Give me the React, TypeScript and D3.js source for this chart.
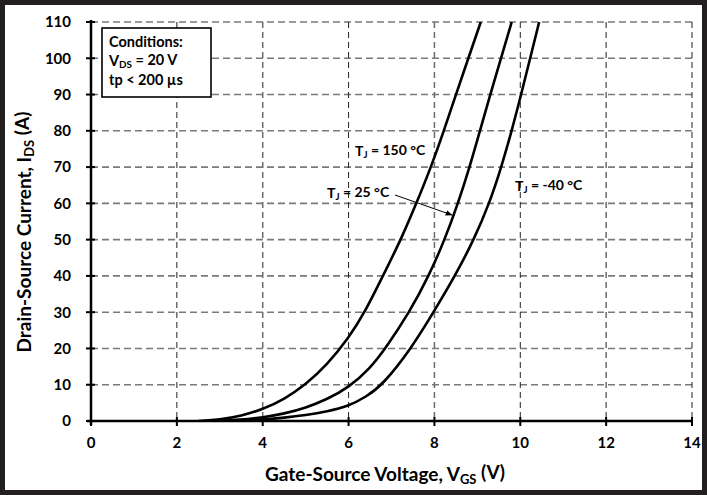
import React from "react";
import * as d3 from "d3";

// transfer characteristics
const vgs150 = [2.5, 3, 3.5, 4, 4.5, 5, 5.5, 6, 6.38, 6.8, 7.22, 7.58, 7.92, 8.22, 8.5, 8.79, 9.08];
const ids150 = [0, 0.4, 1.4, 3.2, 6, 10, 15.5, 22.8, 30, 40, 50, 60, 70, 80, 90, 100, 110];

const vgs25 = [2.8, 3.5, 4, 4.5, 5, 5.5, 6, 6.5, 6.86, 7.42, 7.87, 8.24, 8.55, 8.82, 9.06, 9.3, 9.55, 9.8];
const ids25 = [0, 0.3, 1.0, 2.0, 3.6, 6.0, 9.2, 14.5, 20, 30, 40, 50, 60, 70, 80, 90, 100, 110];

const vgsM40 = [3, 3.5, 4, 4.5, 5, 5.5, 6, 6.4, 6.8, 7.46, 7.98, 8.48, 8.92, 9.28, 9.56, 9.8, 10.02, 10.23, 10.44];
const idsM40 = [0, 0.1, 0.4, 0.9, 1.6, 2.6, 4.1, 6.6, 10, 20, 30, 40, 50, 60, 70, 80, 90, 100, 110];

const xTicks = [0, 2, 4, 6, 8, 10, 12, 14];
const yTicks = [0, 10, 20, 30, 40, 50, 60, 70, 80, 90, 100, 110];

const W = 707;
const H = 495;
const plot = { left: 91, right: 692, top: 22, bottom: 421 };
const font = "Lato, 'DejaVu Sans', sans-serif";

const x = d3.scaleLinear().domain([0, 14]).range([plot.left, plot.right]);
const y = d3.scaleLinear().domain([0, 110]).range([plot.bottom, plot.top]);

const line = d3
  .line<[number, number]>()
  .x((d) => x(d[0]))
  .y((d) => y(d[1]))
  .curve(d3.curveBasis);

const series = [
  { v: vgs150, i: ids150 },
  { v: vgs25, i: ids25 },
  { v: vgsM40, i: idsM40 },
];

const Sub = ({ children }: { children: string }) => (
  <tspan fontSize="0.68em" dy="0.25em">
    {children}
  </tspan>
);

export default function App() {
  return (
    <svg
      width={W}
      height={H}
      style={{ position: "absolute", left: 0, top: 0, background: "#fff" }}
      fontFamily={font}
      fontWeight="bold"
    >
      <defs>
        <clipPath id="plotClip">
          <rect x={plot.left} y={plot.top} width={plot.right - plot.left} height={plot.bottom - plot.top} />
        </clipPath>
        <marker id="arrow" viewBox="0 0 10 10" refX="9" refY="5" markerWidth="7" markerHeight="7" orient="auto">
          <path d="M0,1 L10,5 L0,9 z" fill="#000" />
        </marker>
      </defs>

      {/* outer frame */}
      <rect x={2.5} y={2.5} width={W - 5} height={H - 5} fill="#fff" stroke="#231f20" strokeWidth={5} />

      {/* grid */}
      {yTicks.filter((t) => t > 0).map((t) => (
        <line key={"h" + t} x1={plot.left} x2={plot.right} y1={y(t)} y2={y(t)}
          stroke="#7a7a7a" strokeWidth={1.6} strokeDasharray="7,4" />
      ))}
      {xTicks.filter((t) => t > 0).map((t) => (
        <line key={"v" + t} x1={x(t)} x2={x(t)} y1={plot.top} y2={plot.bottom}
          stroke={t % 4 === 0 ? "#6a6a6a" : "#222"} strokeWidth={t % 4 === 0 ? 1.5 : 1} strokeDasharray="6,4" />
      ))}

      {/* axes */}
      <line x1={plot.left} x2={plot.left} y1={plot.top - 2} y2={plot.bottom + 4} stroke="#000" strokeWidth={2.5} />
      <line x1={plot.left - 4} x2={plot.right} y1={plot.bottom} y2={plot.bottom} stroke="#000" strokeWidth={2.5} />
      {yTicks.map((t) => (
        <line key={"yt" + t} x1={plot.left - 5} x2={plot.left + 4} y1={y(t)} y2={y(t)} stroke="#000" strokeWidth={2} />
      ))}
      {xTicks.map((t) => (
        <line key={"xt" + t} x1={x(t)} x2={x(t)} y1={plot.bottom - 4} y2={plot.bottom + 5} stroke="#000" strokeWidth={2} />
      ))}

      {/* tick labels */}
      {yTicks.map((t) => (
        <text key={"yl" + t} x={71} y={y(t)} dy="0.36em" textAnchor="end" fontSize={15}>
          {t}
        </text>
      ))}
      {xTicks.map((t) => (
        <text key={"xl" + t} x={x(t)} y={443} dy="0.36em" textAnchor="middle" fontSize={15}>
          {t}
        </text>
      ))}

      {/* axis titles */}
      <text x={385} y={481} textAnchor="middle" fontSize={19}>
        Gate-Source Voltage, V<Sub>GS</Sub>
        <tspan dy="-0.25em"> (V)</tspan>
      </text>
      <text transform={`translate(31,${232}) rotate(-90)`} textAnchor="middle" fontSize={19}>
        Drain-Source Current, I<Sub>DS</Sub>
        <tspan dy="-0.25em"> (A)</tspan>
      </text>

      {/* curves */}
      <g clipPath="url(#plotClip)">
        {series.map((s, k) => (
          <path key={k} d={line(s.v.map((v, j) => [v, s.i[j]] as [number, number])) || ""}
            fill="none" stroke="#000" strokeWidth={2.6} />
        ))}
      </g>

      {/* conditions box */}
      <rect x={102} y={28} width={109} height={69} fill="#fff" stroke="#000" strokeWidth={1.6} />
      <g fontSize={14.5}>
        <text x={109} y={47}>Conditions:</text>
        <text x={109} y={66}>
          V<Sub>DS</Sub>
          <tspan dy="-0.25em"> = 20 V</tspan>
        </text>
        <text x={109} y={85}>tp &lt; 200 µs</text>
      </g>

      {/* curve labels */}
      <g fontSize={14}>
        <text x={355} y={156}>
          T<Sub>J</Sub>
          <tspan dy="-0.25em"> = 150 °C</tspan>
        </text>
        <text x={327} y={198}>
          T<Sub>J</Sub>
          <tspan dy="-0.25em"> = 25 °C</tspan>
        </text>
        <text x={515} y={191}>
          T<Sub>J</Sub>
          <tspan dy="-0.25em"> = -40 °C</tspan>
        </text>
      </g>
      <line x1={395} y1={195} x2={452} y2={215} stroke="#000" strokeWidth={1} markerEnd="url(#arrow)" />
    </svg>
  );
}
